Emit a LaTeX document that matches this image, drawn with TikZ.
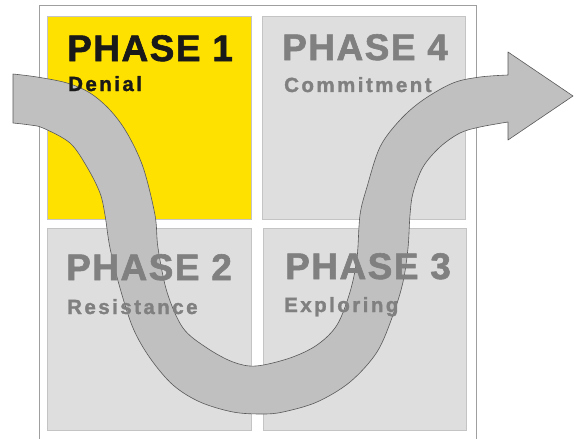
\documentclass[tikz,border=0pt]{standalone}
\usepackage{fontspec}
\setmainfont{Liberation Sans}
\newfontfamily\titrefont{Liberation Sans}[UprightFont={* Bold}, FakeBold=1.6, LetterSpace=4]
\newfontfamily\soustitrefont{Liberation Sans}[UprightFont={* Bold}, FakeBold=1.4, LetterSpace=12]
\definecolor{jaune}{HTML}{FFE100}
\definecolor{grisclair}{HTML}{DEDEDE}
\definecolor{gristexte}{HTML}{808080}
\definecolor{grisbande}{HTML}{C0C0C0}
\definecolor{bord}{HTML}{C4C4C4}

\begin{document}
\begin{tikzpicture}[x=1pt, y=-1pt]
\tikzset{case/.style={draw=bord, fill=grisclair, line width=0.8pt}}
\tikzset{titre/.style={anchor=base west, inner sep=0pt, text=gristexte,
  font=\titrefont\fontsize{37}{40}\selectfont}}
\tikzset{soustitre/.style={anchor=base west, inner sep=0pt, text=gristexte,
  font=\soustitrefont\fontsize{20.5}{24}\selectfont}}
\tikzset{bande/.style={draw=black!65, fill=grisbande, line width=0.6pt, line join=round}}
\useasboundingbox (0,0) rectangle (574,439);
% cadre et cases
\draw[gray!75, line width=0.8pt] (39,439) -- (39,5) -- (476,5) -- (476,439);
\draw[case, fill=jaune] (47,16) rectangle (251,219);
\draw[case] (262,16) rectangle (465,219);
\draw[case] (47,228) rectangle (251,430);
\draw[case] (263,228) rectangle (466,430);
% la bande
\filldraw[bande] (13,74) -- plot[smooth, tension=0.55] coordinates {(13,74) (37,77) (67,83) (90,93)
  (110,110) (127,133) (143,167) (155,215) (158,248) (167,292) (183,328) (207,348) (233,362)
  (256,366) (290,358) (317,345) (337,325) (350,292) (357,258) (360,215) (367,187) (380,147)
  (400,120) (423,100) (453,83) (480,77) (508,75)}
  -- (508,52) -- (573,96) -- (508,140) -- (508,122)
  -- plot[smooth, tension=0.55] coordinates {(508,122) (480,127) (460,133) (440,147) (423,167)
  (413,193) (410,215) (408,248) (403,282) (393,315) (377,352) (350,382) (317,402) (283,412)
  (262,414) (233,412) (200,402) (173,385) (150,358) (133,328) (120,288) (110,248) (105,215)
  (100,193) (87,167) (70,143) (43,128) (30,125) (13,123)} -- cycle;
% textes
\node[titre, text=black!90] (P1) at (67,61) {PHASE 1};
\node[soustitre, text=black!90] (S1) at (68,91) {Denial};
\node[titre] (P4) at (282,60) {PHASE 4};
\node[soustitre] (S4) at (284,92) {Commitment};
\node[titre] (P2) at (66,280) {PHASE 2};
\node[soustitre] (S2) at (67,314) {Resistance};
\node[titre] (P3) at (285,279) {PHASE 3};
\node[soustitre] (S3) at (284,312) {Exploring};
\end{tikzpicture}
\end{document}
